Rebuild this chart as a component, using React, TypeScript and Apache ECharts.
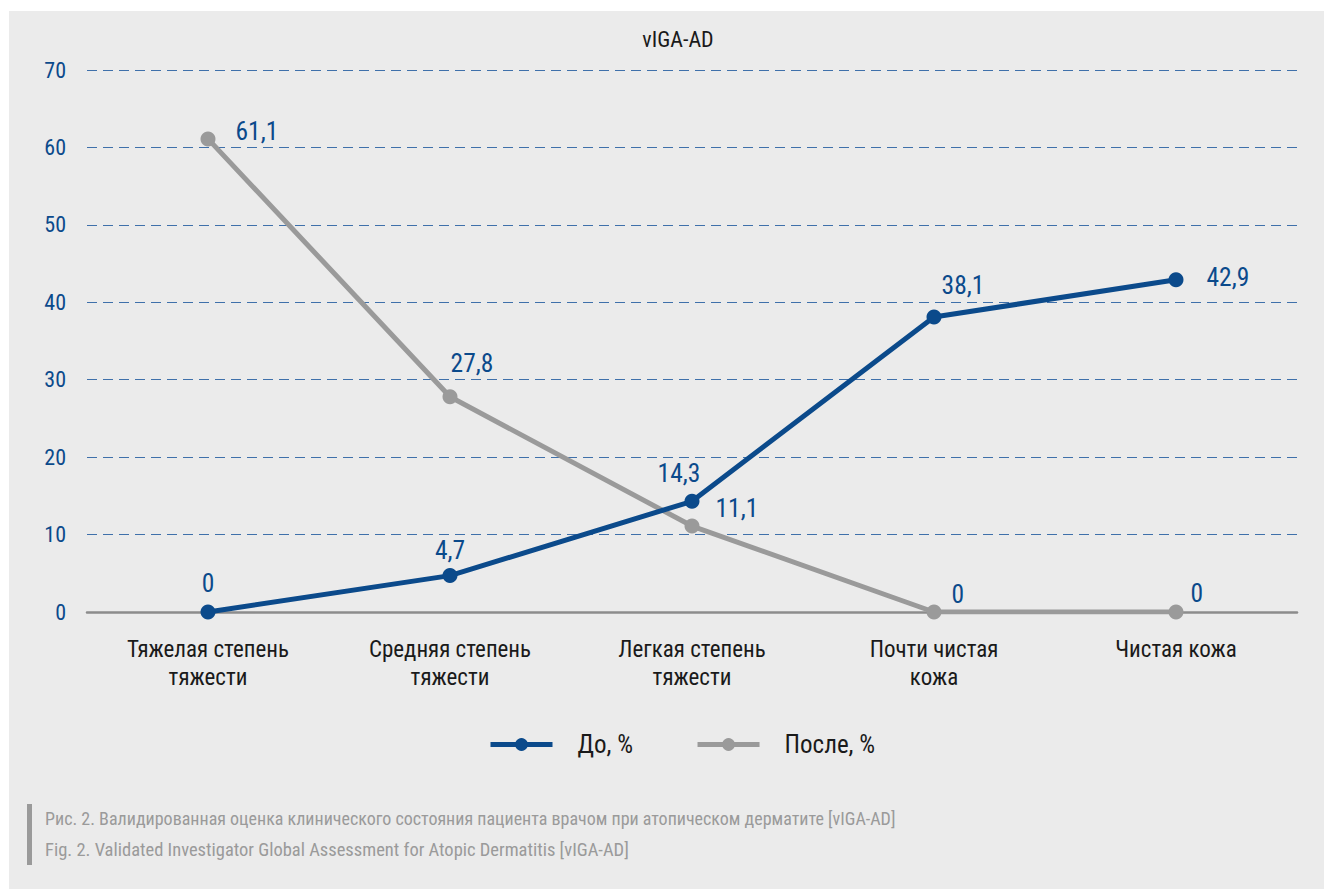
import React, { useEffect, useRef } from "react";
import * as echarts from "echarts";

const categories = [
  "Тяжелая степень\nтяжести",
  "Средняя степень\nтяжести",
  "Легкая степень\nтяжести",
  "Почти чистая\nкожа",
  "Чистая кожа",
];
const beforeValues = [0, 4.7, 14.3, 38.1, 42.9];
const afterValues = [61.1, 27.8, 11.1, 0, 0];
const seriesNames = ["До, %", "После, %"];
const chartTitle = "vIGA-AD";
const captionRu =
  "Рис. 2. Валидированная оценка клинического состояния пациента врачом при атопическом дерматите [vIGA-AD]";
const captionEn =
  "Fig. 2. Validated Investigator Global Assessment for Atopic Dermatitis [vIGA-AD]";

const FONT = "'Liberation Sans Narrow', 'Roboto Condensed', 'DejaVu Sans Condensed', 'Liberation Sans', sans-serif";
const BLUE = "#0b4a8b";
const GREY = "#9a9a9a";

const beforeLabelCfg = [
  { position: "top", offset: [0, -4] },
  { position: "top", offset: [0, 0] },
  { position: "top", offset: [-13, -3] },
  { position: "top", offset: [29, -6] },
  { position: "right", offset: [18, -3] },
];
const afterLabelCfg = [
  { position: "right", offset: [15, -8] },
  { position: "top", offset: [22, -8] },
  { position: "right", offset: [11, -18] },
  { position: "right", offset: [5, -18] },
  { position: "right", offset: [2, -19] },
];

const fmt = (v: number) => String(v).replace(".", ",");

export default function App() {
  const ref = useRef<HTMLDivElement>(null);
  useEffect(() => {
    if (!ref.current) return;
    const chart = echarts.init(ref.current, undefined, { renderer: "svg" });
    const labelBase = {
      show: true,
      color: BLUE,
      fontSize: 25.5,
      fontFamily: FONT,
      formatter: (p: any) => fmt(p.value),
    };
    chart.setOption({
      animation: false,
      backgroundColor: "#ffffff",
      textStyle: { fontFamily: FONT },
      graphic: [
        {
          type: "rect",
          z: -10,
          shape: { x: 9, y: 11, width: 1315, height: 878 },
          style: { fill: "#ebebeb" },
          silent: true,
        },
        {
          type: "rect",
          shape: { x: 27, y: 804, width: 5, height: 61 },
          style: { fill: "#9a9a9a" },
        },
        {
          type: "text",
          x: 45,
          y: 818,
          style: {
            text: captionRu,
            fill: "#9a9a9a",
            fontSize: 18,
            fontFamily: FONT,
            verticalAlign: "middle",
          },
        },
        {
          type: "text",
          x: 45,
          y: 850,
          style: {
            text: captionEn,
            fill: "#9a9a9a",
            fontSize: 18.5,
            fontFamily: FONT,
            verticalAlign: "middle",
          },
        },
      ],
      title: {
        text: chartTitle,
        left: 673,
        textAlign: "center",
        top: 23,
        textStyle: { color: "#1a1a1a", fontSize: 22, fontWeight: "normal", fontFamily: FONT },
      },
      legend: {
        data: seriesNames,
        left: 488,
        top: 732,
        padding: 0,
        itemWidth: 62,
        itemHeight: 16,
        itemGap: 62,
        lineStyle: { width: 5 },
        textStyle: { color: "#1a1a1a", fontSize: 25, fontFamily: FONT, padding: [0, 0, 0, 20] },
      },
      grid: { left: 87, right: 27, top: 70, bottom: 889 - 612 },
      xAxis: {
        type: "category",
        data: categories,
        boundaryGap: true,
        axisLine: { show: true, lineStyle: { color: "#8c8c8c", width: 2.5 } },
        axisTick: { show: false },
        axisLabel: {
          color: "#1a1a1a",
          fontSize: 23,
          lineHeight: 28,
          margin: 23,
          fontFamily: FONT,
          interval: 0,
        },
      },
      yAxis: {
        type: "value",
        min: 0,
        max: 70,
        interval: 10,
        axisLine: { show: false },
        axisTick: { show: false },
        axisLabel: { color: BLUE, fontSize: 22, margin: 21, fontFamily: FONT },
        splitLine: {
          lineStyle: { color: "#3f70aa", width: 1.2, type: [10, 6] },
        },
      },
      series: [
        {
          name: seriesNames[0],
          type: "line",
          data: beforeValues.map((v, i) => ({
            value: v,
            label: { ...labelBase, ...beforeLabelCfg[i] },
          })),
          symbol: "circle",
          symbolSize: 15,
          z: 3,
          itemStyle: { color: BLUE },
          lineStyle: { color: BLUE, width: 5 },
          label: labelBase,
        },
        {
          name: seriesNames[1],
          type: "line",
          data: afterValues.map((v, i) => ({
            value: v,
            label: { ...labelBase, ...afterLabelCfg[i] },
          })),
          symbol: "circle",
          symbolSize: 15,
          z: 2,
          itemStyle: { color: GREY },
          lineStyle: { color: GREY, width: 5 },
          label: labelBase,
        },
      ],
    });
    return () => chart.dispose();
  }, []);
  return (
    <div style={{ position: "fixed", left: 0, top: 0, width: 1324, height: 889 }}>
      <div ref={ref} style={{ width: 1324, height: 889 }} />
    </div>
  );
}
